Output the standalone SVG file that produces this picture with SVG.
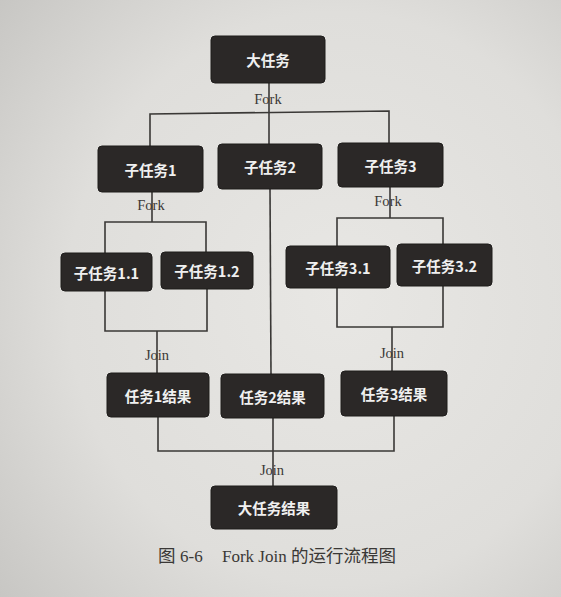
<svg xmlns="http://www.w3.org/2000/svg" width="561" height="597" viewBox="0 0 561 597">
<defs>
<radialGradient id="paper" cx="0.6" cy="0.5" r="0.8">
<stop offset="0" stop-color="#e8e7e4"/>
<stop offset="0.6" stop-color="#dfdedb"/>
<stop offset="1" stop-color="#c6c5c2"/>
</radialGradient>
<style>
.box{fill:#2b2827;stroke:#1e1c1b;stroke-width:1}
.bt{fill:#f0f0f0;font-family:"Noto Sans CJK SC","Noto Sans",sans-serif;font-size:14.5px;font-weight:bold;text-anchor:middle;dominant-baseline:central}
.ln{fill:none;stroke:#3a3836;stroke-width:1.6}
.lb{fill:#3a3836;font-family:"Liberation Serif",serif;font-size:14.5px;text-anchor:middle;dominant-baseline:central}
.cap{fill:#3a3836;font-family:"Liberation Serif","Noto Sans CJK SC",serif;font-size:17px}
.cj{font-family:"Noto Sans CJK SC",sans-serif;font-size:17.5px}
</style>
</defs>
<rect width="561" height="597" fill="url(#paper)"/>
<g id="connectors">
<polyline class="ln" points="269,83 269,144"/>
<polyline class="ln" points="150,146 150,114 389,111 389,143"/>
<polyline class="ln" points="152,192 152,222"/>
<polyline class="ln" points="105,253 105,222 206,222 206,252"/>
<polyline class="ln" points="105,291 105,331 207,331 207,289"/>
<polyline class="ln" points="157,331 157,373"/>
<polyline class="ln" points="270,189 271,374"/>
<polyline class="ln" points="390,187 390,218"/>
<polyline class="ln" points="337,246 337,218 443,218 443,244"/>
<polyline class="ln" points="337,288 337,327 443,327 443,286"/>
<polyline class="ln" points="392,327 392,371"/>
<polyline class="ln" points="158,417 158,451 394,451 394,416"/>
<polyline class="ln" points="273,418 273,486"/>
<text class="lb" x="268" y="99">Fork</text>
<text class="lb" x="151" y="205">Fork</text>
<text class="lb" x="388" y="201">Fork</text>
<text class="lb" x="157" y="355">Join</text>
<text class="lb" x="392" y="353">Join</text>
<text class="lb" x="272" y="470">Join</text>
</g>
<g id="n-big"><rect class="box" x="211" y="36" width="114" height="47" rx="4"/><text class="bt" x="268" y="59.5">大任务</text></g>
<g id="n-s1"><rect class="box" x="98" y="146" width="105" height="46" rx="4"/><text class="bt" x="150.5" y="169">子任务1</text></g>
<g id="n-s2"><rect class="box" x="218" y="144" width="104" height="45" rx="4"/><text class="bt" x="270" y="166.5">子任务2</text></g>
<g id="n-s3"><rect class="box" x="338" y="143" width="105" height="44" rx="4"/><text class="bt" x="390.5" y="165">子任务3</text></g>
<g id="n-s11"><rect class="box" x="61" y="253" width="91" height="38" rx="4"/><text class="bt" x="106.5" y="272">子任务1.1</text></g>
<g id="n-s12"><rect class="box" x="161" y="252" width="92" height="37" rx="4"/><text class="bt" x="207" y="270.5">子任务1.2</text></g>
<g id="n-s31"><rect class="box" x="286" y="246" width="104" height="42" rx="4"/><text class="bt" x="338" y="267">子任务3.1</text></g>
<g id="n-s32"><rect class="box" x="397" y="244" width="95" height="42" rx="4"/><text class="bt" x="444.5" y="265">子任务3.2</text></g>
<g id="n-r1"><rect class="box" x="107" y="373" width="102" height="44" rx="4"/><text class="bt" x="158" y="395">任务1结果</text></g>
<g id="n-r2"><rect class="box" x="221" y="374" width="103" height="44" rx="4"/><text class="bt" x="272.5" y="396">任务2结果</text></g>
<g id="n-r3"><rect class="box" x="341" y="371" width="106" height="45" rx="4"/><text class="bt" x="394" y="393.5">任务3结果</text></g>
<g id="n-final"><rect class="box" x="211" y="486" width="126" height="43" rx="4"/><text class="bt" x="274" y="507.5">大任务结果</text></g>
<text class="cap" y="562"><tspan class="cj" x="158">图</tspan><tspan x="180">6-6</tspan><tspan x="222">Fork Join</tspan><tspan class="cj" x="291">的运行流程图</tspan></text>
</svg>
